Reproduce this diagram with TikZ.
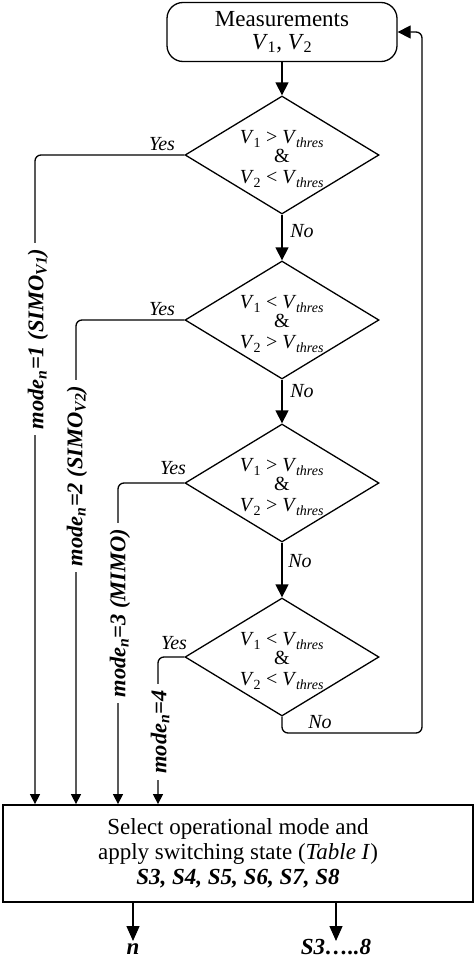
\documentclass[tikz,border=0pt]{standalone}
\usepackage{fontspec}
\setmainfont{Liberation Serif}
\usetikzlibrary{shapes.geometric,arrows.meta,calc}
\newcommand{\Vsub}[1]{\textit{V}\kern-0.5pt\textsubscript{#1}}
\newcommand{\Vth}{\textit{V}\kern-0.5pt\textsubscript{\textit{thres}}}
\begin{document}
\begin{tikzpicture}[x=1pt,y=-1pt,line width=1.3pt,
  maintext/.style={font=\fontsize{23}{25}\selectfont, align=center},
  dia/.style={diamond, draw, minimum width=194pt, minimum height=118pt, inner sep=0pt},
  dtext/.style={font=\fontsize{20}{21}\selectfont, align=center, inner sep=0pt},
  yn/.style={font=\fontsize{20}{22}\selectfont\itshape, anchor=base, inner sep=0pt},
  mlab/.style={font=\fontsize{22.5}{24}\selectfont\bfseries\itshape, rotate=90, fill=white, inner xsep=6pt, inner ysep=1pt},
  arr/.style={-{Triangle[length=13pt,width=13pt]}},
  sarr/.style={-{Triangle[length=10pt,width=10pt]}},
  oarr/.style={-{Triangle[length=15pt,width=13pt]}},
  rc/.style={rounded corners=6pt}
]
\useasboundingbox (0,0) rectangle (474,966);
\fill[white] (0,0) rectangle (474,966);

% nodes
\node[draw, rounded corners=16pt, minimum width=230pt, minimum height=59pt, inner sep=0pt, maintext] (meas) at (282,32)
  {Measurements\\[-2pt]{\fontsize{23}{24}\selectfont\Vsub{1}, \Vsub{2}}};
\node[dia] (d1) at (282,155) {};
\node[dia] (d2) at (282,320) {};
\node[dia] (d3) at (282,483) {};
\node[dia] (d4) at (282,657) {};
\node[dtext] (t1) at (282,159) {\Vsub{1} {>} \Vth\\[-2pt] \&\\[0pt] \Vsub{2} {<} \Vth};
\node[dtext] (t2) at (282,324) {\Vsub{1} {<} \Vth\\[-2pt] \&\\[0pt] \Vsub{2} {>} \Vth};
\node[dtext] (t3) at (282,487) {\Vsub{1} {>} \Vth\\[-2pt] \&\\[0pt] \Vsub{2} {>} \Vth};
\node[dtext] (t4) at (282,661) {\Vsub{1} {<} \Vth\\[-2pt] \&\\[0pt] \Vsub{2} {<} \Vth};

\node[draw, line width=1.8pt, minimum width=470pt, minimum height=97pt, inner sep=0pt, maintext] (sel) at (238,853.5)
  {Select operational mode and\\ apply switching state (\textit{Table I})\\ \textbf{\textit{S3, S4, S5, S6, S7, S8}}};

% coordinates
\coordinate (c1) at (35,0);
\coordinate (c2) at (76,0);
\coordinate (c3) at (118,0);
\coordinate (c4) at (158,0);
\coordinate (loop) at (422,733);
\coordinate (on) at (133,941);
\coordinate (os) at (336,941);

% main flow
\draw[arr] (meas.south) -- (d1.north);
\draw[arr] (d1.south) -- (d2.north);
\draw[arr] (d2.south) -- (d3.north);
\draw[arr] (d3.south) -- (d4.north);
\draw[arr, rc] (d4.south) |- (loop) |- (meas.east);

% yes branches
\draw[sarr, rc] (d1.west) -| (c1 |- sel.north);
\draw[sarr, rc] (d2.west) -| (c2 |- sel.north);
\draw[sarr, rc] (d3.west) -| (c3 |- sel.north);
\draw[sarr, rc] (d4.west) -| (c4 |- sel.north);

% outputs
\draw[oarr] (sel.south -| on) -- (on);
\draw[oarr] (sel.south -| os) -- (os);

% labels
\node[yn] at (162,150) {Yes};
\node[yn] at (162,315) {Yes};
\node[yn] at (173,474) {Yes};
\node[yn] at (174,649) {Yes};
\node[yn] at (302,237) {No};
\node[yn] at (302,397) {No};
\node[yn] at (300,567) {No};
\node[yn] at (320,728) {No};

\node[mlab] at (38,339) {mode\textsubscript{n}=1 (SIMO\textsubscript{V1})};
\node[mlab] at (77,476) {mode\textsubscript{n}=2 (SIMO\textsubscript{V2})};
\node[mlab] at (120,613) {mode\textsubscript{n}=3 (MIMO)};
\node[mlab] at (160,732) {mode\textsubscript{n}=4};

\node[font=\fontsize{23}{25}\selectfont\bfseries\itshape, anchor=base, inner sep=0pt] at (133,954) {n};
\node[font=\fontsize{23}{25}\selectfont\bfseries\itshape, anchor=base, inner sep=0pt] at (336,954) {S3…..8};
\end{tikzpicture}
\end{document}
